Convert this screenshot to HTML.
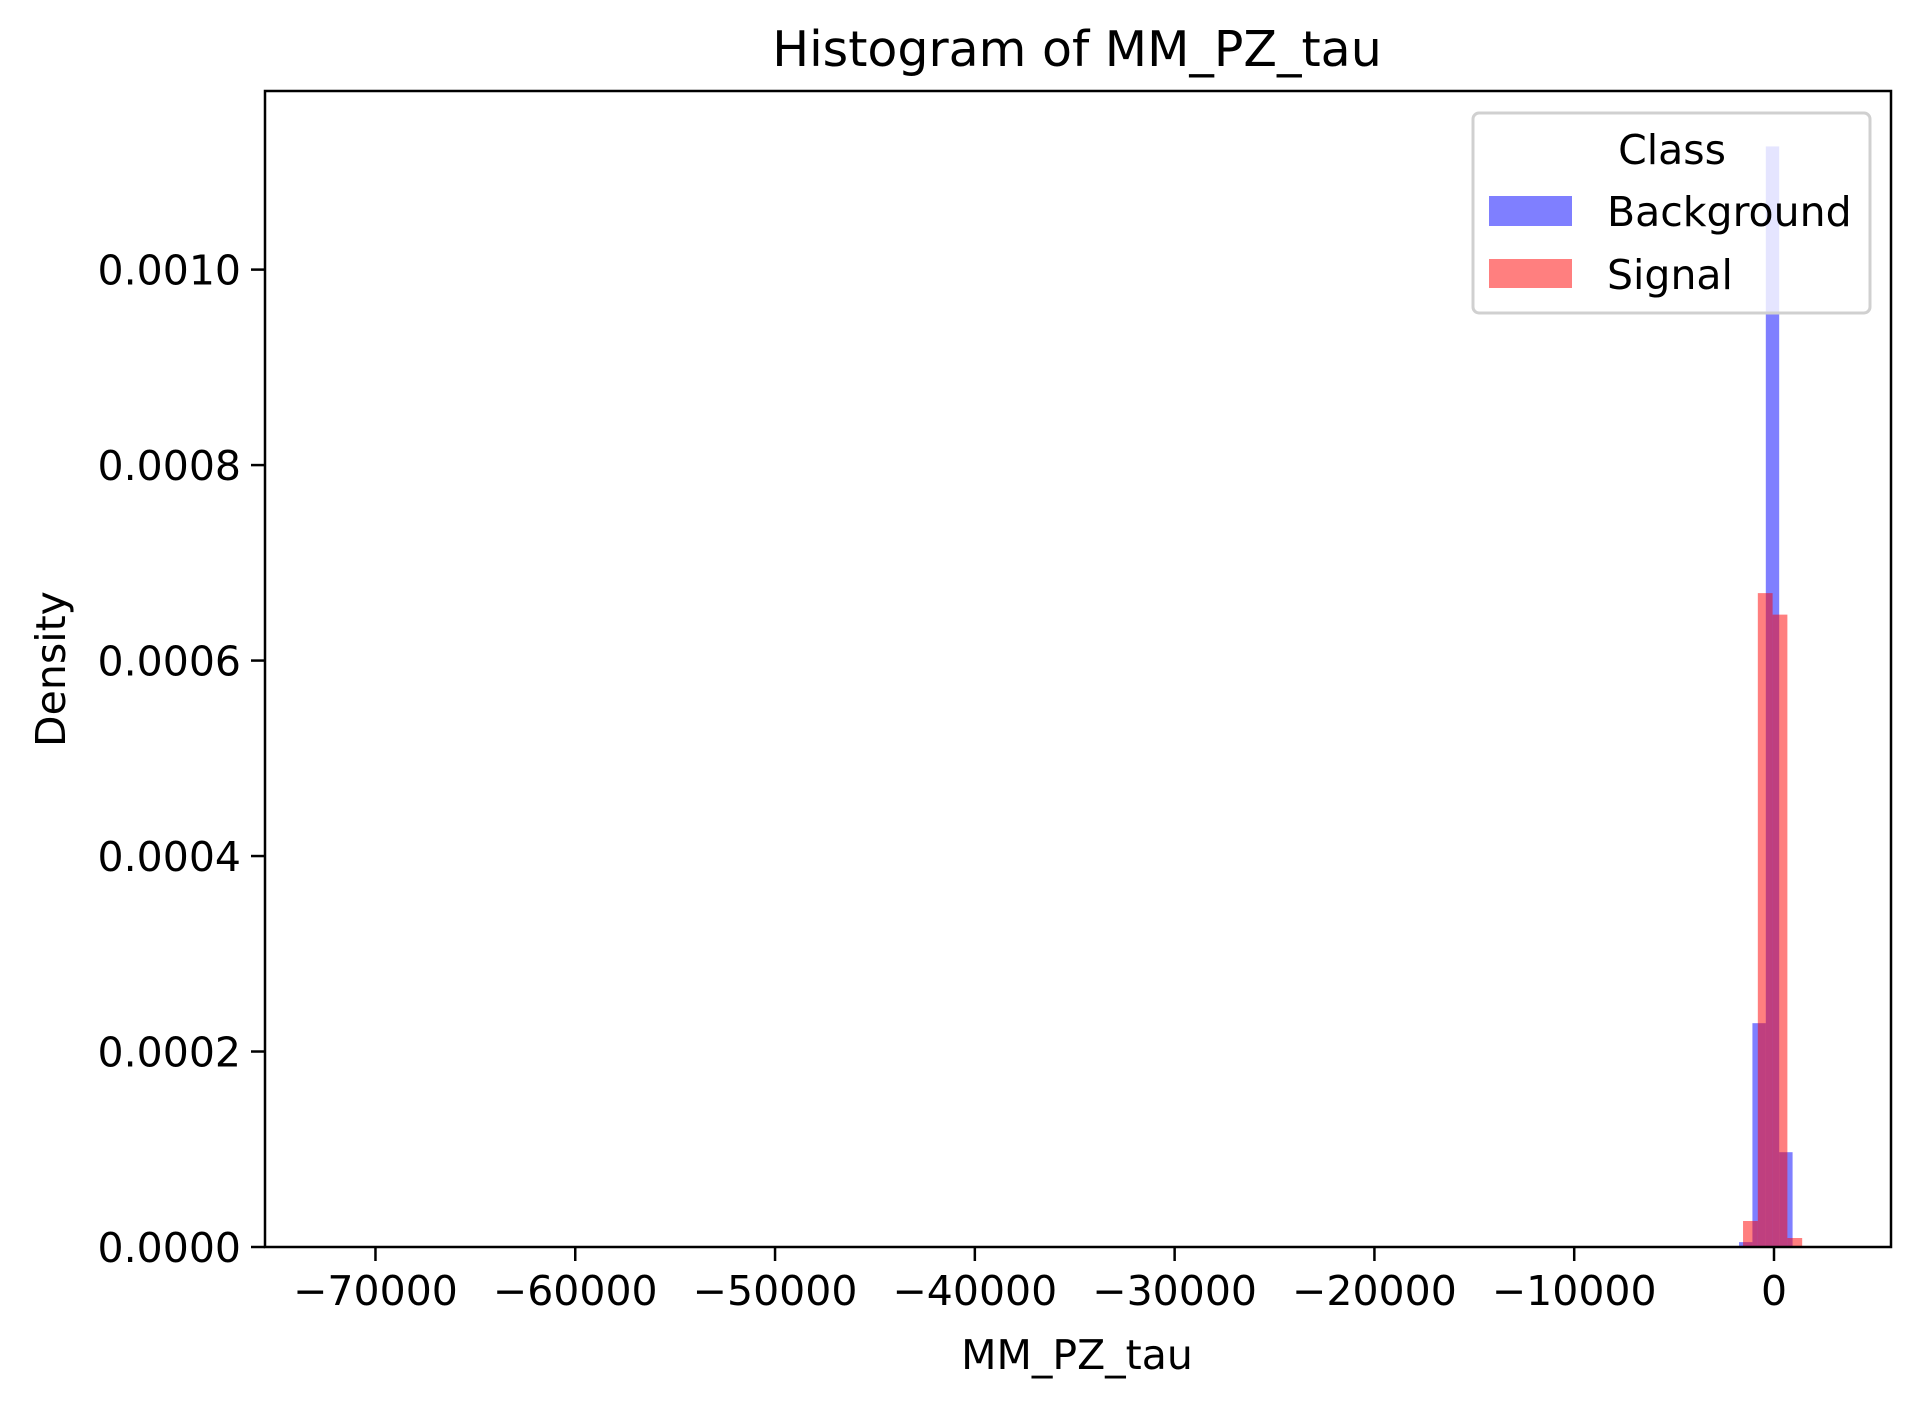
<!DOCTYPE html>
<html><head><meta charset="utf-8"><style>
html,body{margin:0;padding:0;background:#fff}
svg{display:block;font-family:"DejaVu Sans","Liberation Sans",sans-serif}
</style></head><body>
<svg id="chart" width="1921" height="1407" viewBox="0 0 1921 1407">
<rect width="1921" height="1407" fill="#fff"/>
<g id="bars"></g>
<g id="axes"></g>
<text x="1077" y="66" font-size="49" text-anchor="middle">Histogram of MM_PZ_tau</text>
<text x="1077" y="1369" font-size="41" text-anchor="middle">MM_PZ_tau</text>
<text transform="translate(65,669) rotate(-90)" font-size="41" text-anchor="middle">Density</text>
<g>
<rect x="1473" y="113" width="397" height="200" rx="6" fill="#fff" fill-opacity="0.8" stroke="#d0d0d0" stroke-width="3"/>
<text x="1672" y="164" font-size="41" text-anchor="middle">Class</text>
<rect x="1489" y="196" width="83" height="30" fill="#0000ff" fill-opacity="0.5"/>
<text x="1607" y="226" font-size="41">Background</text>
<rect x="1489" y="259" width="83" height="29" fill="#ff0000" fill-opacity="0.5"/>
<text x="1607" y="289" font-size="41">Signal</text>
</g>
</svg>
<script>
const xTicks = [-70000,-60000,-50000,-40000,-30000,-20000,-10000,0];
const yTicks = [0,0.0002,0.0004,0.0006,0.0008,0.0010];
const bgStart = -1750;
const bgWidth = 670;
const bgValues = [0.000005,0.000229,0.001126,0.000097];
const sigStart = -1550;
const sigWidth = 740;
const sigValues = [0.0000266,0.000669,0.000647,0.0000092];

const L=265,R=1891,T=91,B=1247;
const xS = v => 1774 + v*0.019979;
const yS = v => B - v*977400;
const NS='http://www.w3.org/2000/svg';
const bars=document.getElementById('bars');
const axes=document.getElementById('axes');
function mk(tag,attrs,parent){const e=document.createElementNS(NS,tag);for(const k in attrs)e.setAttribute(k,attrs[k]);parent.appendChild(e);return e;}

bgValues.forEach((v,i)=>{
  const x0=xS(bgStart+i*bgWidth), x1=xS(bgStart+(i+1)*bgWidth);
  const r=mk('rect',{x:x0,y:yS(v),width:x1-x0,height:B-yS(v),fill:'#0000ff','fill-opacity':0.5},bars);
  
  
});
sigValues.forEach((v,i)=>{
  const x0=xS(sigStart+i*sigWidth), x1=xS(sigStart+(i+1)*sigWidth);
  const r=mk('rect',{x:x0,y:yS(v),width:x1-x0,height:B-yS(v),fill:'#ff0000','fill-opacity':0.5},bars);
  
  
});

const frame=mk('rect',{x:L,y:T,width:R-L,height:B-T,fill:'none',stroke:'#000','stroke-width':2.5},axes);



xTicks.forEach(t=>{
  const x=xS(t);
  const tk=mk('line',{x1:x,x2:x,y1:B,y2:B+14,stroke:'#000','stroke-width':2.5},axes);
  
  
  const lb=mk('text',{x:x,y:B+58,'font-size':41,'text-anchor':'middle'},axes);
  lb.textContent=t<0?'\u2212'+Math.abs(t):String(t);
  
  
});
yTicks.forEach(t=>{
  const y=yS(t);
  const tk=mk('line',{x1:L-14,x2:L,y1:y,y2:y,stroke:'#000','stroke-width':2.5},axes);
  
  
  const lb=mk('text',{x:L-24,y:y+15,'font-size':41,'text-anchor':'end'},axes);
  lb.textContent=t.toFixed(4);
  
  
});
</script>
</body></html>
